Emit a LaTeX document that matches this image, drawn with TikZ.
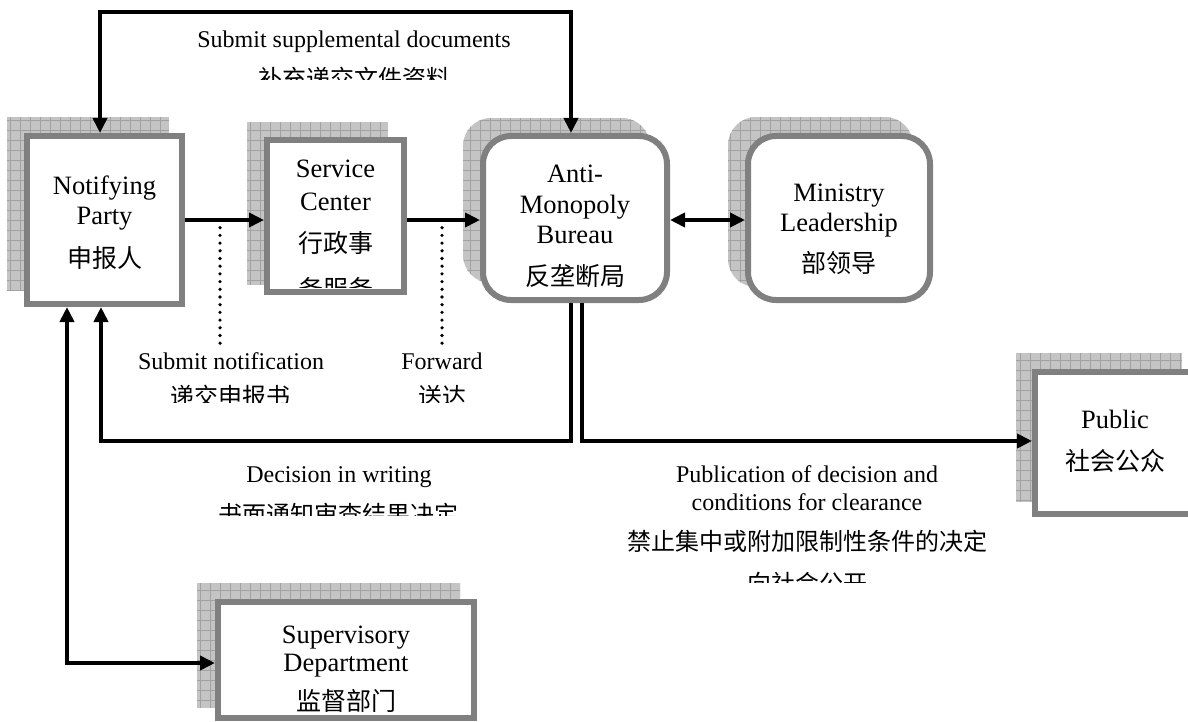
\documentclass[tikz,border=0pt]{standalone}
\usepackage{fontspec}
\setmainfont{Liberation Serif}
\newfontfamily\cjk{Noto Sans CJK SC}
\usetikzlibrary{arrows.meta}
\definecolor{boxgray}{HTML}{808080}
\definecolor{shadefill}{HTML}{C4C4C4}
\definecolor{gridline}{HTML}{A2A2A2}
\newcommand\mkshadow[3]{%
  \begin{scope}
    \clip[#1] #2 rectangle #3;
    \fill[shadefill] #2 rectangle #3;
    \draw[gridline, line width=0.6pt, step=10pt] #2 grid #3;
  \end{scope}}
\begin{document}
\begin{tikzpicture}[x=1pt,y=-1pt,
  box/.style={draw=boxgray, line width=6pt, fill=white, inner sep=0pt},
  rbox/.style={box, rounded corners=28pt},
  conn/.style={line width=4pt},
  arr/.style={conn, -{Triangle[length=15pt,width=14pt]}},
  dbl/.style={conn, {Triangle[length=15pt,width=14pt]}-{Triangle[length=15pt,width=14pt]}},
  dots/.style={line width=3.6pt, line cap=round, dash pattern=on 0pt off 7.7pt},
  en/.style={inner sep=0pt, anchor=base, font=\fontsize{26.5}{30}\selectfont},
  lab/.style={inner sep=0pt, anchor=base, font=\fontsize{24}{28}\selectfont},
  cjkb/.style={inner sep=0pt, anchor=base, font=\fontsize{25}{28}\cjk},
  cjkl/.style={inner sep=0pt, anchor=base, font=\fontsize{24}{28}\cjk},
]
\useasboundingbox (0,0) rectangle (1188,722);
\clip (0,0) rectangle (1188,722);
\fill[white] (0,0) rectangle (1188,722);

% shadows
\mkshadow{}{(7,117)}{(169,291)}
\mkshadow{}{(247,122)}{(388,285)}
\mkshadow{rounded corners=28pt}{(463,118)}{(650,283)}
\mkshadow{rounded corners=28pt}{(728,117)}{(913,287)}
\mkshadow{}{(1016,353)}{(1182,502)}
\mkshadow{}{(197,583)}{(460,708)}

% boxes
\node[box, minimum width=155pt, minimum height=168pt] (np) at (104.5,220) {};
\node[box, minimum width=137pt, minimum height=152pt] (sc) at (335.5,216) {};
\node[rbox, minimum width=184pt, minimum height=164pt] (amb) at (575,218) {};
\node[rbox, minimum width=182pt, minimum height=164pt] (min) at (839,218) {};
\node[box, minimum width=160pt, minimum height=142pt] (pub) at (1115,443) {};
\node[box, minimum width=256pt, minimum height=116pt] (sup) at (346,660) {};

% box texts
\node[en] (np1) at (104.5,194) {Notifying};
\node[en] (np2) at (104.5,225) {Party};
\node[cjkb] (np3) at (104.5,267) {申报人};

\node[en] (sc1) at (335.5,178) {Service};
\node[en] (sc2) at (335.5,211) {Center};
\node[cjkb] (sc3) at (335.5,252) {行政事};
\begin{scope}
  \clip (270,260) rectangle (400,287);
  \node[cjkb] (sc4) at (335.5,298) {务服务};
\end{scope}

\node[en] (amb1) at (575,183) {Anti-};
\node[en] (amb2) at (575,213) {Monopoly};
\node[en] (amb3) at (575,243) {Bureau};
\node[cjkb] (amb4) at (575,285) {反垄断局};

\node[en] (min1) at (839,201) {Ministry};
\node[en] (min2) at (839,231) {Leadership};
\node[cjkb] (min3) at (839,272) {部领导};

\node[en] (pub1) at (1115,428) {Public};
\node[cjkb] (pub2) at (1115,470) {社会公众};

\node[en] (sup1) at (346,643) {Supervisory};
\node[en] (sup2) at (346,671) {Department};
\node[cjkb] (sup3) at (346,710) {监督部门};

% connectors
\coordinate (tl) at (100,12);
\coordinate (tr) at (571,12);
\draw[dbl] (np.north -| tl) -- (tl) -- (tr) -- (amb.north -| tr);

\draw[arr] (np.east) -- (np.east -| sc.west);
\draw[arr] (sc.east |- np.east) -- (amb.west |- np.east);
\draw[dbl] (amb.east |- np.east) -- (min.west |- np.east);

\coordinate (d1) at (220,220);
\coordinate (d1e) at (220,347);
\coordinate (d2) at (442,220);
\coordinate (d2e) at (442,347);
\draw[dots] (d1) -- (d1e);
\draw[dots] (d2) -- (d2e);

\coordinate (bl) at (571,441);
\coordinate (br) at (101,441);
\draw[arr] (amb.south -| bl) -- (bl) -- (br) -- (np.south -| br);
\coordinate (pl) at (582,441);
\draw[arr] (amb.south -| pl) -- (pl) -- (pub.west |- pl);
\coordinate (sl) at (67,663);
\draw[dbl] (np.south -| sl) -- (sl) -- (sup.west |- sl);

% labels
\node[lab] (l1) at (354,48) {Submit supplemental documents};
\begin{scope}
  \clip (150,55) rectangle (560,80);
  \node[cjkl] (l2) at (354,88) {补充递交文件资料};
\end{scope}

\node[lab] (l3) at (231,369) {Submit notification};
\node[lab] (l5) at (442,369) {Forward};
\begin{scope}
  \clip (120,375) rectangle (520,402);
  \node[cjkl] (l4) at (230,405) {递交申报书};
  \node[cjkl] (l6) at (442,405) {送达};
\end{scope}

\node[lab] (l7) at (339,482) {Decision in writing};
\begin{scope}
  \clip (150,495) rectangle (530,515);
  \node[cjkl] (l8) at (338,523) {书面通知审查结果决定};
\end{scope}

\node[lab] (l9) at (807,482) {Publication of decision and};
\node[lab] (l10) at (807,510) {conditions for clearance};
\node[cjkl] (l11) at (807,550) {禁止集中或附加限制性条件的决定};
\begin{scope}
  \clip (700,560) rectangle (920,582);
  \node[cjkl] (l12) at (807,592) {向社会公开};
\end{scope}
\end{tikzpicture}
\end{document}
